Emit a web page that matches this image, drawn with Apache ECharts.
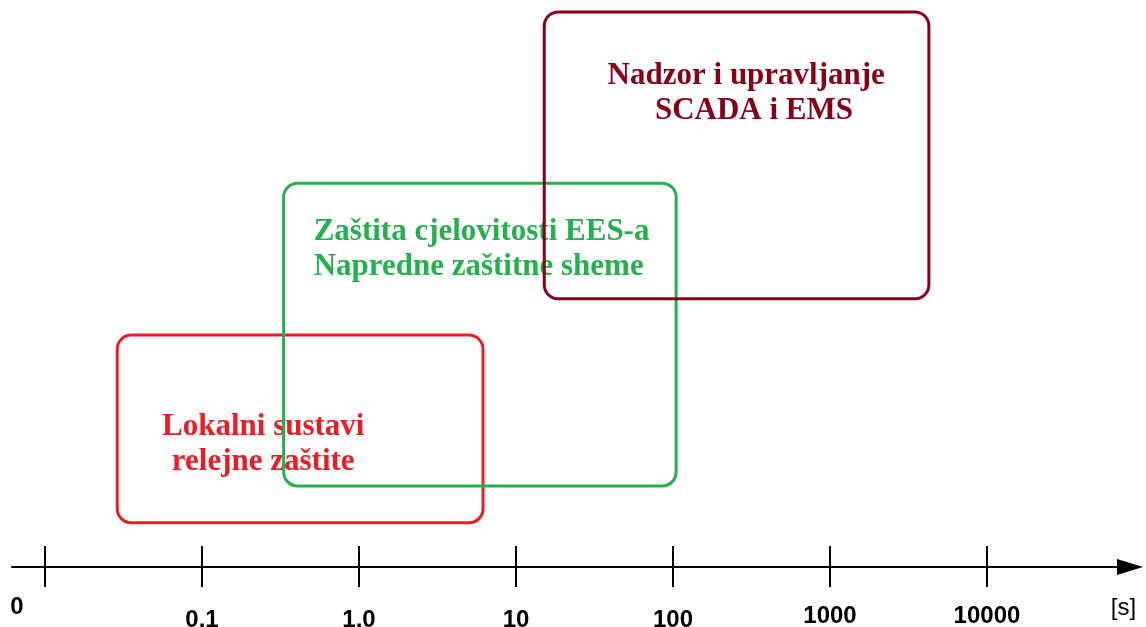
<!DOCTYPE html>
<html>
<head>
<meta charset="utf-8">
<script src="https://cdn.jsdelivr.net/npm/echarts@6/dist/echarts.min.js"></script>
<style>html,body{margin:0;padding:0;background:#fff}#c{width:1146px;height:627px}</style>
</head>
<body>
<div id="c"></div>
<script>
// Axis ticks (index positions on the time axis) and their labels
const tickValues = [0, 1, 2, 3, 4, 5, 6];
const tickLabels = ['0', '0,1', '1,0', '10', '100', '1000', '10000'];
const axisUnit = '[s]';

// Boxes: time range on the axis (in tick-index units) and vertical extent
const boxNames = [
  'Lokalni sustavi\nrelejne zaštite',
  'Zaštita cjelovitosti EES-a\nNapredne zaštitne sheme',
  'Nadzor i upravljanje\n  SCADA i EMS'
];
const boxStart = [0.46, 1.52, 3.18];
const boxEnd   = [2.79, 4.02, 5.63];
const boxLow   = [0.78, 1.43, 4.73];
const boxHigh  = [4.09, 6.77, 9.79];

// Styles (not data)
const boxStyles = [
  { color: '#ed1c24', align: 'center', dx: 146, dy: 109 },
  { color: '#22b14c', align: 'left',   dx: 30,  dy: 66.5 },
  { color: '#880015', align: 'center', dx: 202, dy: 82 }
];

const chart = echarts.init(document.getElementById('c'));
const data = boxNames.map((n, i) => [boxStart[i], boxEnd[i], boxLow[i], boxHigh[i]]);
const labelOf = v => tickLabels[tickValues.indexOf(v)];
const axMin = -0.2102, axMax = 6.911;
const tickLine = { color: '#000', width: 2 };
const labelFont = { fontSize: 24, fontWeight: 'bold', color: '#000', fontFamily: 'Liberation Sans' };

chart.setOption({
  backgroundColor: '#fff',
  animation: false,
  grid: { left: 12, right: 16, top: 0, bottom: 60, outerBoundsMode: 'none' },
  xAxis: [
    {
      type: 'value', min: axMin, max: axMax, position: 'bottom',
      name: axisUnit, nameLocation: 'end', nameGap: 0,
      nameTextStyle: { fontFamily: 'Liberation Sans', fontSize: 24, color: '#000', align: 'center', verticalAlign: 'top', padding: [29, 13, 0, 0] },
      axisLine: { onZero: false, lineStyle: { color: '#000', width: 2 }, symbol: ['none', 'triangle'], symbolSize: [16, 26] },
      axisTick: { inside: true, length: 21, lineStyle: tickLine, customValues: tickValues },
      axisLabel: Object.assign({ customValues: [1, 2, 3, 4], margin: 41, formatter: labelOf }, labelFont),
      splitLine: { show: false }
    },
    {
      type: 'value', min: axMin, max: axMax, position: 'bottom',
      axisLine: { show: false, onZero: false },
      axisTick: { inside: false, length: 20, lineStyle: tickLine, customValues: tickValues },
      axisLabel: Object.assign({ customValues: [0], margin: 28, formatter: labelOf, padding: [0, 56, 0, 0] }, labelFont),
      splitLine: { show: false }
    },
    {
      type: 'value', min: axMin, max: axMax, position: 'bottom',
      axisLine: { show: false, onZero: false },
      axisTick: { show: false },
      axisLabel: Object.assign({ customValues: [5, 6], margin: 37, formatter: labelOf }, labelFont),
      splitLine: { show: false }
    }
  ],
  yAxis: { type: 'value', min: 0, max: 10, show: false },
  series: [{
    type: 'custom',
    data: data,
    encode: { x: [0, 1], y: [2, 3] },
    renderItem: function (params, api) {
      const i = params.dataIndex;
      const st = boxStyles[i];
      const p0 = api.coord([api.value(0), api.value(3)]);
      const p1 = api.coord([api.value(1), api.value(2)]);
      return {
        type: 'group',
        children: [
          { type: 'rect', shape: { x: p0[0], y: p0[1], width: p1[0] - p0[0], height: p1[1] - p0[1], r: 14 },
            style: { fill: 'none', stroke: st.color, lineWidth: 3 } },
          { type: 'text', x: p0[0] + st.dx, y: p0[1] + st.dy,
            style: { text: boxNames[i], fill: st.color, font: 'bold 31px "Liberation Serif"', lineHeight: 35, align: st.align, verticalAlign: 'middle' } }
        ]
      };
    }
  }]
});
</script>
</body>
</html>
